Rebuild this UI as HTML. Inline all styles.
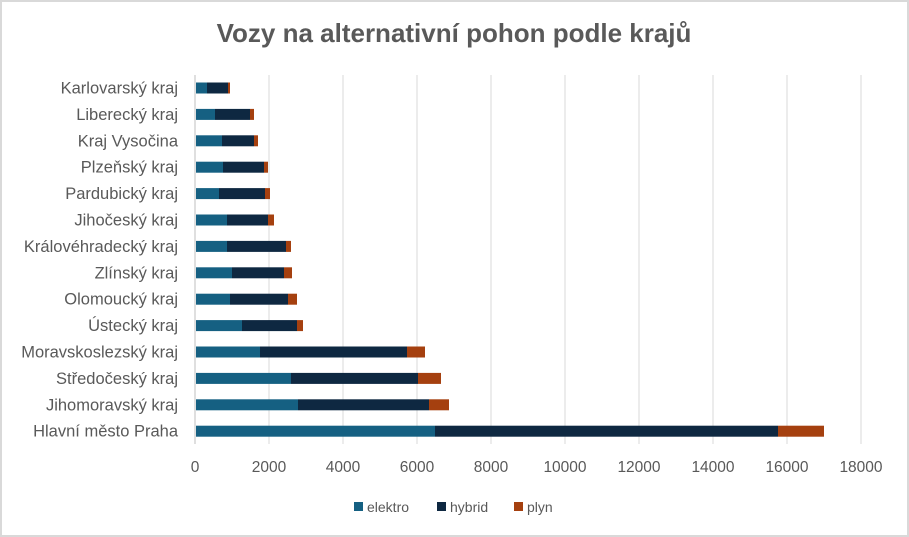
<!DOCTYPE html>
<html><head><meta charset="utf-8"><style>
html,body{margin:0;padding:0;background:#fff}
svg{display:block}
text{font-family:"Liberation Sans",sans-serif;fill:#595959}
</style></head><body>
<svg width="909" height="537" viewBox="0 0 909 537" xmlns="http://www.w3.org/2000/svg">
<rect x="1" y="1" width="907" height="535" fill="#fff" stroke="#d9d9d9" stroke-width="2"/>
<text x="454" y="42" text-anchor="middle" font-size="26" font-weight="bold" style="fill:#595959">Vozy na alternativní pohon podle krajů</text>
<g stroke="#d9d9d9" stroke-width="1">
<line x1="269" y1="75" x2="269" y2="444"/><line x1="343" y1="75" x2="343" y2="444"/><line x1="417" y1="75" x2="417" y2="444"/><line x1="491" y1="75" x2="491" y2="444"/><line x1="565" y1="75" x2="565" y2="444"/><line x1="639" y1="75" x2="639" y2="444"/><line x1="713" y1="75" x2="713" y2="444"/><line x1="787" y1="75" x2="787" y2="444"/><line x1="861" y1="75" x2="861" y2="444"/>
</g>
<line x1="195" y1="75" x2="195" y2="444" stroke="#bfbfbf"/>
<g font-size="15.5" text-anchor="middle">
<text x="195" y="472">0</text><text x="269" y="472">2000</text><text x="343" y="472">4000</text><text x="417" y="472">6000</text><text x="491" y="472">8000</text><text x="565" y="472">10000</text><text x="639" y="472">12000</text><text x="713" y="472">14000</text><text x="787" y="472">16000</text><text x="861" y="472">18000</text>
</g>
<g id="bars"></g>
<g font-size="16.5" text-anchor="end" id="labels"></g>
<g font-size="14">
<rect x="354" y="502" width="9" height="9" fill="#156082"/><text x="367" y="512">elektro</text>
<rect x="437" y="502" width="9" height="9" fill="#0E2841"/><text x="450" y="512">hybrid</text>
<rect x="514" y="502" width="9" height="9" fill="#A5400F"/><text x="527" y="512">plyn</text>
</g>
<script>
var d=[["Karlovarský kraj",207,228,230],["Liberecký kraj",215,250,254],["Kraj Vysočina",222,254,258],["Plzeňský kraj",223,264,268],["Pardubický kraj",219,265,270],["Jihočeský kraj",227,268,274],["Královéhradecký kraj",227,286,291],["Zlínský kraj",232,284,292],["Olomoucký kraj",230,288,297],["Ústecký kraj",242,297,303],["Moravskoslezský kraj",260,407,425],["Středočeský kraj",291,418,441],["Jihomoravský kraj",298,429,449],["Hlavní město Praha",435,778,824]];
var ns="http://www.w3.org/2000/svg",b=document.getElementById("bars"),l=document.getElementById("labels");
d.forEach(function(r,i){var y=88+i*26.4;
function R(x1,x2,c){var e=document.createElementNS(ns,"rect");e.setAttribute("x",x1);e.setAttribute("y",y-5.5);e.setAttribute("width",x2-x1);e.setAttribute("height",11);e.setAttribute("fill",c);b.appendChild(e);}
R(196,r[1],"#156082");R(r[1],r[2],"#0E2841");R(r[2],r[3],"#A5400F");
var t=document.createElementNS(ns,"text");t.setAttribute("x",178);t.setAttribute("y",y+5.5);t.textContent=r[0];l.appendChild(t);});
</script>
</svg>
</body></html>
